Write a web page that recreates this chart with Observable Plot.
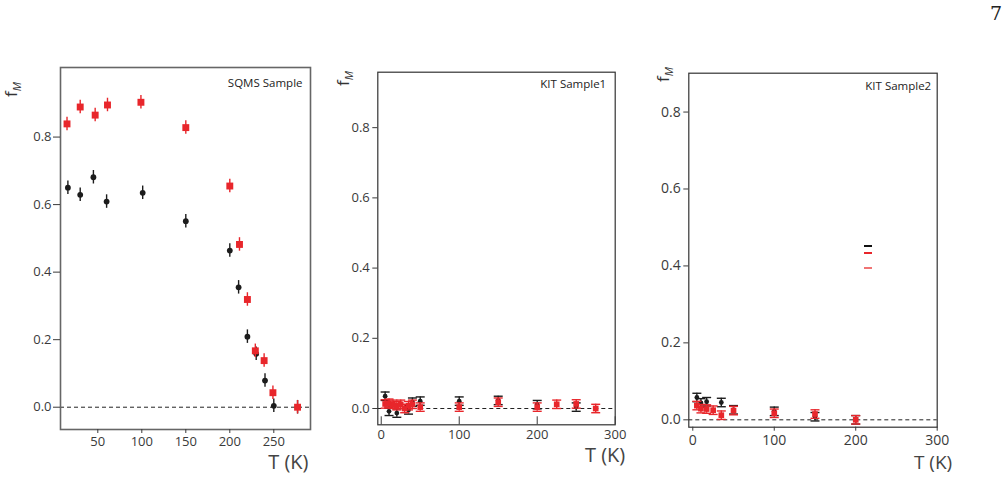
<!DOCTYPE html>
<html>
<head>
<meta charset="utf-8">
<script src="https://cdn.jsdelivr.net/npm/d3@7"></script>
<script src="https://cdn.jsdelivr.net/npm/@observablehq/plot@0.6"></script>
<style>
  body { margin: 0; background: #fff; font-family: "Open Sans", sans-serif; }
  #page { position: relative; width: 1007px; height: 478px; overflow: hidden; }
  .panel { position: absolute; top: 0; }
  .panel svg { overflow: visible; }
  .overlay { position: absolute; left: 0; top: 0; pointer-events: none; }
  .pageno {
    position: absolute; right: 5px; top: 2px; font-family: "DejaVu Serif", "Liberation Serif", serif;
    font-size: 19px; color: #222;
  }
  .swatch { position: absolute; width: 8px; height: 1.6px; }
</style>
</head>
<body>
<div id="page">
  <div class="pageno">7</div>
</div>
<script>
// ---- SQMS sample: magnetic fraction vs temperature ----
const sqmsBlackT = [16, 30, 45, 60, 101, 150, 200, 210, 220, 230, 240, 250, 277];
const sqmsBlackF = [0.650, 0.629, 0.681, 0.609, 0.635, 0.551, 0.464, 0.355, 0.209, 0.158, 0.079, 0.004, 0.000];
const sqmsRedT   = [15, 30, 47, 61, 99, 150, 200, 211, 220, 229, 239, 249, 277];
const sqmsRedF   = [0.839, 0.889, 0.865, 0.895, 0.903, 0.828, 0.655, 0.482, 0.319, 0.167, 0.138, 0.043, 0.000];
const sqmsErr = 0.02;

// ---- KIT sample 1 ----
const kit1BlackT = [5, 10, 20, 35, 40, 50, 100, 150, 200, 250];
const kit1BlackF = [0.035, -0.008, -0.013, -0.004, 0.018, 0.021, 0.021, 0.023, 0.011, 0.004];
const kit1RedT   = [5, 10, 15, 20, 25, 30, 35, 40, 50, 100, 150, 200, 225, 250, 275];
const kit1RedF   = [0.013, 0.015, 0.012, 0.008, 0.012, 0.000, 0.008, 0.012, 0.004, 0.004, 0.018, 0.004, 0.012, 0.013, 0.000];
const kit1Err = 0.012;

// ---- KIT sample 2 ----
const kit2BlackT = [5, 10, 17, 35, 50, 100, 150, 200];
const kit2BlackF = [0.058, 0.044, 0.047, 0.045, 0.026, 0.022, 0.008, 0.000];
const kit2RedT   = [5, 10, 17, 25, 35, 50, 100, 150, 200];
const kit2RedF   = [0.037, 0.029, 0.028, 0.025, 0.012, 0.024, 0.017, 0.015, 0.000];
const kit2Err = 0.011;

// tick values
const yTicks = [0, 0.2, 0.4, 0.6, 0.8];
const sqmsXTicks = [50, 100, 150, 200, 250];
const kitXTicks = [0, 100, 200, 300];

// panel titles and axis labels
const titles = ["SQMS Sample", "KIT Sample1", "KIT Sample2"];
const xLabel = "T (K)";
const yLabelBase = "f";
const yLabelSub = "M";

const BLACK = "#1c1c1c";
const RED = "#e8262b";
const AXIS = "#3a3a3a";

const rows = (T, F, e) => T.map((t, i) => ({t, f: F[i], e}));

// horizontal cap drawn as a dot symbol (half-width = r)
const capSymbol = {
  draw(context, size) {
    const w = Math.sqrt(size / Math.PI);
    context.moveTo(-w, 0);
    context.lineTo(w, 0);
  }
};

function errorBars(data, color, caps) {
  const marks = [
    Plot.ruleX(data, {x: "t", y1: d => d.f - d.e, y2: d => d.f + d.e, stroke: color, strokeWidth: 1.4})
  ];
  if (caps) {
    marks.push(
      Plot.dot(data, {x: "t", y: d => d.f + d.e, symbol: capSymbol, r: 4.5, stroke: color, strokeWidth: 1.4, fill: "none"}),
      Plot.dot(data, {x: "t", y: d => d.f - d.e, symbol: capSymbol, r: 4.5, stroke: color, strokeWidth: 1.4, fill: "none"})
    );
  }
  return marks;
}

const page = document.getElementById("page");

function panel(cfg) {
  const black = rows(cfg.blackT, cfg.blackF, cfg.err);
  const red = rows(cfg.redT, cfg.redF, cfg.err);
  const xAxes = cfg.inwardX
    ? [
        Plot.axisX({ticks: cfg.xTicks, tickSize: 0, tickPadding: cfg.xPad, tickFormat: "d", label: null, color: AXIS, fontSize: cfg.tickFont}),
        Plot.axisX({ticks: cfg.xTicks, tickSize: 8, dy: -8, tickFormat: () => "", label: null, color: AXIS})
      ]
    : [Plot.axisX({ticks: cfg.xTicks, tickSize: 4, tickPadding: cfg.xPad, tickFormat: "d", label: null, color: AXIS, fontSize: cfg.tickFont})];
  const chart = Plot.plot({
    width: cfg.width,
    height: 478,
    marginLeft: cfg.ml, marginRight: cfg.mr, marginTop: cfg.mt, marginBottom: cfg.mb,
    style: {fontFamily: "'Open Sans', sans-serif", fontSize: cfg.tickFont + "px", overflow: "visible", background: "transparent"},
    x: {domain: cfg.xDomain},
    y: {domain: cfg.yDomain},
    marks: [
      Plot.ruleY([0], {stroke: "#222", strokeWidth: 1, strokeDasharray: "4,3"}),
      ...errorBars(black, BLACK, cfg.caps),
      Plot.dot(black, {x: "t", y: "f", r: cfg.dotR, fill: BLACK}),
      ...errorBars(red, RED, cfg.caps),
      Plot.dot(red, {x: "t", y: "f", symbol: "square", r: cfg.sqR, fill: RED}),
      Plot.frame({stroke: cfg.frameColor, strokeWidth: cfg.frameWidth}),
      Plot.axisY({ticks: yTicks, tickSize: cfg.yTick, tickPadding: cfg.yPad, tickFormat: d3.format(".1f"), label: null, color: AXIS, fontSize: cfg.tickFont}),
      ...xAxes,
      Plot.text([cfg.title], {frameAnchor: "top-right", textAnchor: "end", lineAnchor: "middle", dx: cfg.titleDx, dy: cfg.titleDy, fontSize: 11.5, fill: "#222"}),
      Plot.text([xLabel], {frameAnchor: "bottom-right", textAnchor: "end", lineAnchor: "middle", dx: cfg.labDx, dy: cfg.labDy, fontSize: cfg.labFont, fill: "#444"})
    ]
  });
  const holder = document.createElement("div");
  holder.className = "panel";
  holder.style.left = cfg.left + "px";
  holder.appendChild(chart);
  page.appendChild(holder);
}

panel({
  left: 0, width: 320, ml: 60, mr: 10, mt: 67, mb: 49,
  xDomain: [7.6, 291.7], yDomain: [-0.066, 1.006], xTicks: sqmsXTicks,
  blackT: sqmsBlackT, blackF: sqmsBlackF, redT: sqmsRedT, redF: sqmsRedF, err: sqmsErr,
  caps: false, dotR: 2.9, sqR: 3.9, frameColor: "#666", frameWidth: 1.6,
  tickFont: 13, yTick: 7, yPad: 2, xPad: 3, inwardX: false,
  title: titles[0], titleDx: -8, titleDy: 16, labDx: -2, labDy: 33, labFont: 20
});

panel({
  left: 320, width: 320, ml: 57.3, mr: 25.3, mt: 71.7, mb: 53.7,
  xDomain: [-4.4, 300], yDomain: [-0.0464, 0.958], xTicks: kitXTicks,
  blackT: kit1BlackT, blackF: kit1BlackF, redT: kit1RedT, redF: kit1RedF, err: kit1Err,
  caps: true, dotR: 2.4, sqR: 3.2, frameColor: "#333", frameWidth: 1.2,
  tickFont: 13, yTick: 5, yPad: 3, xPad: 5, inwardX: true,
  title: titles[1], titleDx: -9, titleDy: 12, labDx: 10, labDy: 31, labFont: 20
});

panel({
  left: 640, width: 367, ml: 48.3, mr: 70.3, mt: 72.7, mb: 51.3,
  xDomain: [-4.9, 300], yDomain: [-0.0192, 0.901], xTicks: kitXTicks,
  blackT: kit2BlackT, blackF: kit2BlackF, redT: kit2RedT, redF: kit2RedF, err: kit2Err,
  caps: true, dotR: 2.4, sqR: 3.2, frameColor: "#333", frameWidth: 1.2,
  tickFont: 14, yTick: 5, yPad: 3, xPad: 4, inwardX: false,
  title: titles[2], titleDx: -6, titleDy: 13, labDx: 15, labDy: 36, labFont: 19
});

// rotated f_M labels for each panel, drawn as SVG text with a subscript
const overlay = d3.select(page).append("svg")
  .attr("class", "overlay").attr("width", 1007).attr("height", 478);
[[17, 97], [349, 86], [669, 82]].forEach(([x, y]) => {
  const t = overlay.append("text")
    .attr("transform", `translate(${x},${y}) rotate(-90)`)
    .attr("font-family", "'Open Sans', sans-serif")
    .attr("font-size", 17).attr("fill", "#333");
  t.append("tspan").text(yLabelBase);
  t.append("tspan").attr("dy", 4).attr("font-size", 11).attr("font-style", "italic").text(yLabelSub);
});

// unlabelled legend handles in the third panel
const legendColors = ["#111", RED, "#f07474"];
const legendTops = [245, 252, 267];
legendColors.forEach((c, i) => {
  const s = document.createElement("div");
  s.className = "swatch";
  s.style.left = "864px";
  s.style.top = legendTops[i] + "px";
  s.style.background = c;
  page.appendChild(s);
});
</script>
</body>
</html>
